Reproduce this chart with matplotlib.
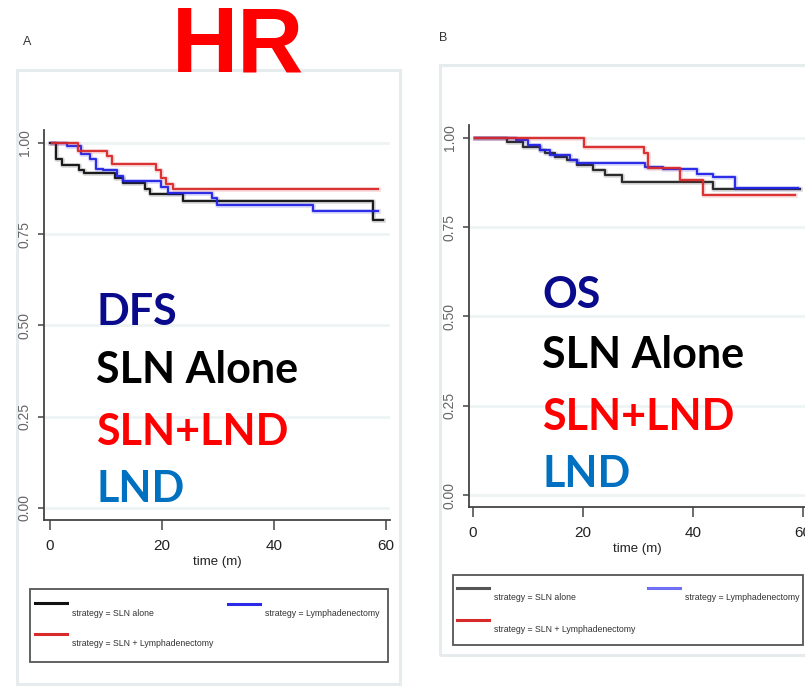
import matplotlib
matplotlib.use("Agg")
import matplotlib.pyplot as plt
from matplotlib.patches import Rectangle
from matplotlib.lines import Line2D

W, H = 805, 688

# ---- data (months, survival fraction) ----
dfs_sln_t = [0, 1.1, 2.1, 5.1, 6.0, 11.6, 13.1, 17.0, 17.9, 23.8, 57.6, 59.5]
dfs_sln_s = [1.0, 0.955, 0.941, 0.927, 0.918, 0.905, 0.891, 0.875, 0.859, 0.841, 0.790, 0.790]
dfs_both_t = [0.3, 5.0, 10.1, 11.0, 18.9, 19.9, 20.8, 21.9, 58.6]
dfs_both_s = [1.0, 0.977, 0.964, 0.942, 0.925, 0.905, 0.887, 0.873, 0.873]
dfs_lnd_t = [0.3, 3.0, 5.6, 7.1, 8.3, 9.5, 11.9, 13.1, 19.9, 21.0, 28.9, 29.8, 47.0, 58.6]
dfs_lnd_s = [1.0, 0.993, 0.970, 0.955, 0.930, 0.925, 0.910, 0.897, 0.880, 0.863, 0.849, 0.831, 0.815, 0.815]

os_sln_t = [0.4, 6.1, 9.1, 12.2, 13.1, 14.9, 17.0, 18.9, 21.9, 24.0, 27.0, 43.7, 59.5]
os_sln_s = [1.0, 0.990, 0.976, 0.966, 0.957, 0.948, 0.938, 0.924, 0.910, 0.896, 0.877, 0.857, 0.857]
os_both_t = [0.4, 20.1, 31.0, 31.9, 37.6, 41.9, 58.5]
os_both_s = [1.0, 0.976, 0.957, 0.915, 0.882, 0.840, 0.840]
os_lnd_t = [0.4, 7.9, 10.0, 12.2, 14.0, 17.6, 18.9, 31.3, 34.5, 40.7, 43.7, 47.6, 59.0]
os_lnd_s = [1.0, 0.995, 0.980, 0.966, 0.952, 0.938, 0.929, 0.918, 0.912, 0.900, 0.890, 0.860, 0.860]

x_ticks = [0, 20, 40, 60]
y_ticks = [0.00, 0.25, 0.50, 0.75, 1.00]
y_tick_labels = ["0.00", "0.25", "0.50", "0.75", "1.00"]
legend_labels = ["strategy = SLN alone", "strategy = SLN + Lymphadenectomy",
                 "strategy = Lymphadenectomy"]
overlay_labels = ["SLN Alone", "SLN+LND", "LND"]

NARROW = ["Liberation Sans", "DejaVu Sans"]
CALIBRI = ["Lato", "DejaVu Sans"]
FRAME = "#e6ecee"
AXIS = "#444444"
NAVY = "#0a0a8c"


def fx(x):
    return x / W


def fy(y):
    return 1 - y / H


def axes_px(fig, left, top, right, bottom):
    return fig.add_axes([fx(left), fy(bottom), (right - left) / W, (bottom - top) / H])


def frame_px(fig, left, top, right, bottom):
    fig.add_artist(Rectangle((fx(left), fy(bottom)), (right - left) / W, (bottom - top) / H,
                             transform=fig.transFigure, facecolor="none",
                             edgecolor=FRAME, linewidth=2.2, zorder=0))


def km_panel(ax, series, xlim, ylim):
    ax.set_xlim(*xlim)
    ax.set_ylim(*ylim)
    for t, s, c in series:
        ax.step(t, s, where="post", color=c, linewidth=3.5, alpha=0.15)
        ax.step(t, s, where="post", color=c, linewidth=1.6, alpha=0.95)
    for sp in ["top", "right"]:
        ax.spines[sp].set_visible(False)
    for sp in ["left", "bottom"]:
        ax.spines[sp].set_color(AXIS)
        ax.spines[sp].set_linewidth(1.3)
    ax.set_xticks(x_ticks)
    ax.set_yticks(y_ticks)
    ax.set_yticklabels(y_tick_labels, rotation=90, va="center")
    ax.tick_params(axis="x", direction="out", length=7, width=1.1, color=AXIS, pad=7,
                   labelsize=11, labelcolor="#222222")
    ax.tick_params(axis="y", direction="out", length=4, width=1.1, color=AXIS, pad=5,
                   labelsize=10, labelcolor="#666666")
    for lab in ax.get_xticklabels() + ax.get_yticklabels():
        lab.set_family(NARROW)
    ax.yaxis.grid(True, color="#eef3f3", linewidth=2)
    ax.set_axisbelow(True)
    ax.patch.set_alpha(0)
    ax.set_xlabel("time (m)", fontsize=9.5, family=NARROW, color="#222222", labelpad=2)


def legend_px(fig, left, top, right, bottom, rows, colors):
    fig.add_artist(Rectangle((fx(left), fy(bottom)), (right - left) / W, (bottom - top) / H,
                             transform=fig.transFigure, facecolor="white",
                             edgecolor="#555555", linewidth=1.3))
    for (x0, yl, label), c in zip(rows, colors):
        fig.add_artist(Line2D([fx(x0), fx(x0 + 32)], [fy(yl), fy(yl)],
                              transform=fig.transFigure, color=c, linewidth=2.2))
        fig.text(fx(x0 + 37), fy(yl + 10), label, fontsize=6.3, family=NARROW,
                 color="#333333", ha="left", va="center")


fig = plt.figure(figsize=(W / 100, H / 100), dpi=100)
fig.patch.set_facecolor("white")

# outer panel frames
frame_px(fig, 17, 70, 400, 684)
frame_px(fig, 440, 65, 812, 655)

# panel A: disease-free survival
axA = axes_px(fig, 44, 130, 390, 520)
km_panel(axA, [(dfs_sln_t, dfs_sln_s, "#111111"),
               (dfs_lnd_t, dfs_lnd_s, "#2323e6"),
               (dfs_both_t, dfs_both_s, "#d82a2a")],
         (-1.071, 60.71), (-0.0329, 1.0356))

# panel B: overall survival
axB = axes_px(fig, 469, 125, 805, 507)
km_panel(axB, [(os_sln_t, os_sln_s, "#222222"),
               (os_lnd_t, os_lnd_s, "#2323e6"),
               (os_both_t, os_both_s, "#d82a2a")],
         (-0.727, 60.36), (-0.0336, 1.0364))

legend_px(fig, 30, 589, 388, 662,
          [(35, 603, legend_labels[0]), (35, 634, legend_labels[1]),
           (228, 604, legend_labels[2])],
          ["#111111", "#d82a2a", "#2a2ae8"])
legend_px(fig, 453, 575, 803, 645,
          [(457, 588, legend_labels[0]), (457, 620, legend_labels[1]),
           (648, 588, legend_labels[2])],
          ["#555555", "#d82a2a", "#6f6ff5"])

# panel letters and title
fig.text(fx(27), fy(42), "A", fontsize=9, family=NARROW, color="#333333",
         ha="center", va="center")
fig.text(fx(443), fy(38), "B", fontsize=9, family=NARROW, color="#333333",
         ha="center", va="center")
fig.text(fx(238), fy(71), "HR", fontsize=66, fontweight="bold",
         family=["Liberation Sans", "DejaVu Sans"], color="#ff0000",
         ha="center", va="baseline")

# overlay annotations
overlay_colors = ["#000000", "#ff0000", "#0070c0"]
for x0, head, baselines in [(96, "DFS", [325, 383, 445, 502]),
                            (542, "OS", [308, 368, 430, 487])]:
    texts = [head] + overlay_labels
    colors = [NAVY] + overlay_colors
    for txt, c, yb in zip(texts, colors, baselines):
        fig.text(fx(x0), fy(yb), txt, fontsize=31, fontweight="bold",
                 family=CALIBRI, color=c, ha="left", va="baseline")

fig.savefig("out.png", dpi=100, facecolor="white")
